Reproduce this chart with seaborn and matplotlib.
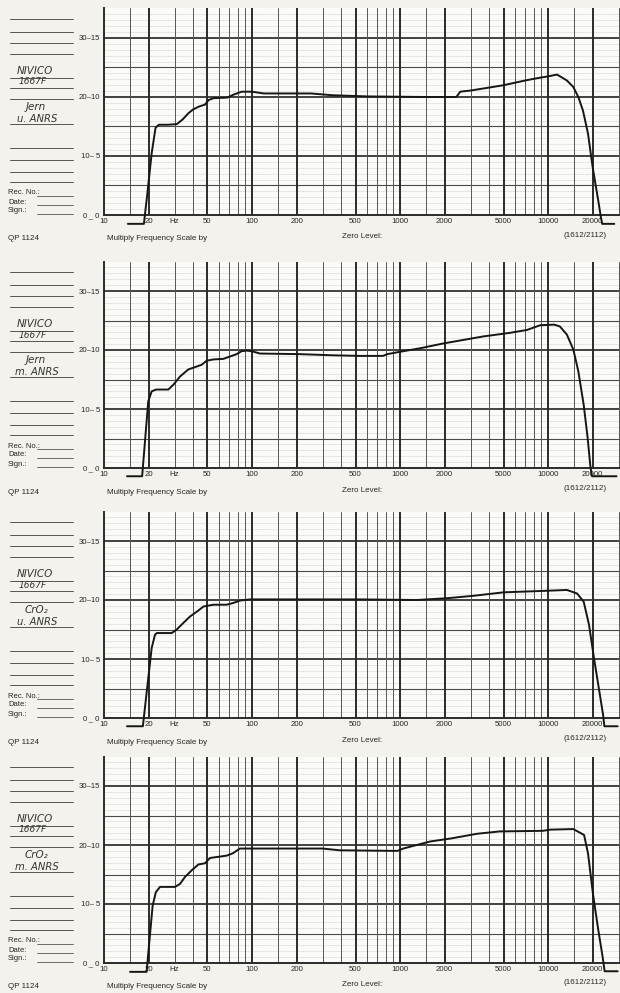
import numpy as np
import pandas as pd
import matplotlib.pyplot as plt
import seaborn as sns

freq_1 = [14.5, 18.6, 19.5, 21.0, 22.3, 23.5, 27, 31, 34, 37, 40, 44, 48, 51, 55, 68, 75, 85, 100, 120,
          250, 350, 600, 1500, 2400, 2550, 3000, 4000, 5000, 7000, 8500, 10000, 11500, 13400, 14800,
          16000, 17200, 18600, 20000, 21800, 22700, 23200, 28000]
level_1 = [-1.5, -1.5, 3.0, 10.5, 14.8, 15.3, 15.3, 15.4, 16.2, 17.2, 17.9, 18.4, 18.7, 19.5, 19.8, 19.9,
           20.4, 20.9, 20.9, 20.6, 20.6, 20.3, 20.1, 20.0, 20.0, 20.9, 21.1, 21.6, 22.0, 22.8, 23.2, 23.5,
           23.8, 22.8, 21.7, 20.0, 17.7, 13.8, 8.1, 2.5, -0.3, -1.5, -1.5]

freq_2 = [14.3, 18.1, 19.9, 21.0, 22.5, 27.2, 29.4, 32.6, 37.1, 42.3, 45.7, 49.5, 54.9, 64.1, 71, 78.7,
          85, 92, 99.5, 113, 210, 354, 536, 768, 820, 1000, 1370, 1950, 3650, 5500, 7200, 8850, 11000,
          12000, 13400, 14800, 16000, 17400, 18500, 19300, 19800, 29000]
level_2 = [-1.4, -1.4, 11.3, 13.0, 13.3, 13.3, 14.1, 15.5, 16.7, 17.2, 17.5, 18.2, 18.4, 18.5, 18.9, 19.3,
           19.8, 19.9, 19.8, 19.4, 19.3, 19.1, 19.0, 19.0, 19.3, 19.7, 20.3, 21.1, 22.3, 22.9, 23.4, 24.2,
           24.3, 24.0, 22.6, 20.1, 16.4, 10.7, 5.1, 0.3, -1.4, -1.4]

freq_3 = [14.3, 18.3, 21.0, 22.1, 22.7, 28.7, 31, 34.3, 38.1, 43.3, 47, 54.9, 67.3, 74.8, 82.8, 97, 536,
          1300, 2070, 3100, 5000, 8400, 13400, 15700, 17400, 18900, 20400, 22000, 23500, 24000, 29500]
level_3 = [-1.4, -1.4, 11.9, 14.1, 14.4, 14.4, 15.0, 16.1, 17.2, 18.2, 18.9, 19.2, 19.2, 19.5, 19.9, 20.1,
           20.1, 20.0, 20.3, 20.7, 21.3, 21.5, 21.7, 21.1, 19.7, 15.8, 10.2, 5.1, 0.6, -1.4, -1.4]

freq_4 = [15.0, 19.4, 21.3, 22.4, 23.9, 30.2, 32.6, 35.3, 39.1, 43.4, 48.1, 52, 67.4, 74.3, 82.8, 107, 300,
          392, 960, 1050, 1600, 2200, 3300, 4700, 9200, 10300, 14800, 17500, 18600, 20100, 21700, 23400,
          24100, 29500]
level_4 = [-1.5, -1.5, 9.7, 12.0, 12.9, 12.9, 13.4, 14.6, 15.7, 16.7, 16.9, 17.8, 18.2, 18.6, 19.4, 19.4,
           19.4, 19.1, 19.0, 19.4, 20.6, 21.1, 21.9, 22.3, 22.4, 22.6, 22.7, 21.7, 18.6, 11.7, 6.0, 0.9,
           -1.4, -1.4]

tape = ['Jern', 'Jern', 'CrO\u2082', 'CrO\u2082']
nr = ['u. ANRS', 'm. ANRS', 'u. ANRS', 'm. ANRS']

x_ticks = [10, 20, 50, 100, 200, 500, 1000, 2000, 5000, 10000, 20000]
x_labels = ['10', '20', '50', '100', '200', '500', '1000', '2000', '5000', '10000', '20000']
x_minor = [15, 30, 40, 60, 70, 80, 90, 150, 300, 400, 600, 700, 800, 900, 1500, 3000, 4000,
           6000, 7000, 8000, 9000, 15000, 30000]
y_ticks = [0, 10, 20, 30]
y_labels = ['0\u2009_ 0', '10\u2013 5', '20\u201310', '30\u201315']

sns.set_style('white')
plt.rcParams['font.family'] = ['Liberation Sans', 'DejaVu Sans']

W, H = 620, 993
fig = plt.figure(figsize=(6.2, 9.93), dpi=100)
fig.patch.set_facecolor('#f3f2ec')

zero_px = [215, 468, 718, 963]
ink = '#262626'
hand = '#333333'

def fy(zero, off):
    # pixel offset above the zero line -> figure fraction
    return 1 - (zero - off) / H

curves = [(freq_1, level_1), (freq_2, level_2), (freq_3, level_3), (freq_4, level_4)]

for i, (f, lv) in enumerate(curves):
    z = zero_px[i]
    ax = fig.add_axes([104 / W, 1 - z / H, 516 / W, 206.5 / H])
    ax.set_facecolor('#fbfbf8')
    ax.set_xscale('log')
    ax.set_xlim(10, 30600)
    ax.set_ylim(0, 35)

    # recorder paper grid
    for d in range(1, 35):
        if d % 5:
            ax.axhline(d, color='#c4c4c4', lw=0.4, ls=(0, (2, 1)), zorder=0)
    for d in [5, 15, 25]:
        ax.axhline(d, color='#4a4a4a', lw=0.8, zorder=1)
    for d in [10, 20, 30]:
        ax.axhline(d, color='#333333', lw=1.3, zorder=1)
    for v in x_minor:
        ax.axvline(v, color='#555555', lw=0.7, zorder=1)
    for v in x_ticks[1:]:
        ax.axvline(v, color='#2b2b2b', lw=1.4, zorder=1)

    df = pd.DataFrame({'freq': f, 'level': lv})
    sns.lineplot(data=df, x='freq', y='level', ax=ax, color='#161616', lw=1.4,
                 estimator=None, sort=False, clip_on=False, zorder=5)

    ax.set_xticks(x_ticks)
    ax.set_xticklabels(x_labels)
    ax.xaxis.set_minor_locator(plt.NullLocator())
    ax.set_yticks(y_ticks)
    ax.set_yticklabels(y_labels)
    ax.tick_params(axis='both', length=0, labelsize=5.6, colors=ink)
    ax.tick_params(axis='x', pad=2)
    ax.tick_params(axis='y', pad=3)
    ax.set_xlabel('')
    ax.set_ylabel('')
    ax.text(30, -0.5, 'Hz', fontsize=5.6, color=ink, ha='center', va='top')
    for s in ['top', 'right']:
        ax.spines[s].set_visible(False)
    for s in ['left', 'bottom']:
        ax.spines[s].set_color('#2b2b2b')
        ax.spines[s].set_linewidth(1.4)

    # form on the left
    for off in [196, 183, 172, 161, 137, 127, 116, 91, 67, 55, 43, 33]:
        fig.add_artist(plt.Line2D([10 / W, 73 / W], [fy(z, off)] * 2, color='#555555', lw=0.7))
    fig.text(35 / W, fy(z, 144), 'NIVICO', fontsize=7.5, style='italic', color=hand,
             ha='center', va='center', family=['DejaVu Sans'])
    fig.text(33 / W, fy(z, 133), '1667F', fontsize=6.5, style='italic', color=hand,
             ha='center', va='center', family=['DejaVu Sans'])
    fig.text(36 / W, fy(z, 108), tape[i], fontsize=7.5, style='italic', color=hand,
             ha='center', va='center', family=['DejaVu Sans'])
    fig.text(37 / W, fy(z, 96), nr[i], fontsize=7.2, style='italic', color=hand,
             ha='center', va='center', family=['DejaVu Sans'])
    for off, lab in [(22, 'Rec. No.:'), (13, 'Date:'), (4, 'Sign.:')]:
        fig.text(8 / W, fy(z, off), lab, fontsize=5.5, color=ink, va='center')
        fig.add_artist(plt.Line2D([37 / W, 73 / W], [fy(z, off - 3)] * 2, color='#555555', lw=0.6))
    fig.text(8 / W, fy(z, -24), 'QP 1124', fontsize=5.8, color=ink, va='center')
    fig.text(107 / W, fy(z, -24), 'Multiply Frequency Scale by', fontsize=5.8, color=ink, va='center')
    fig.text(342 / W, fy(z, -22), 'Zero Level:', fontsize=5.8, color=ink, va='center')
    fig.text(607 / W, fy(z, -20), '(1612/2112)', fontsize=5.8, color=ink, va='center', ha='right')

plt.savefig('out.png', dpi=100, facecolor=fig.get_facecolor())
